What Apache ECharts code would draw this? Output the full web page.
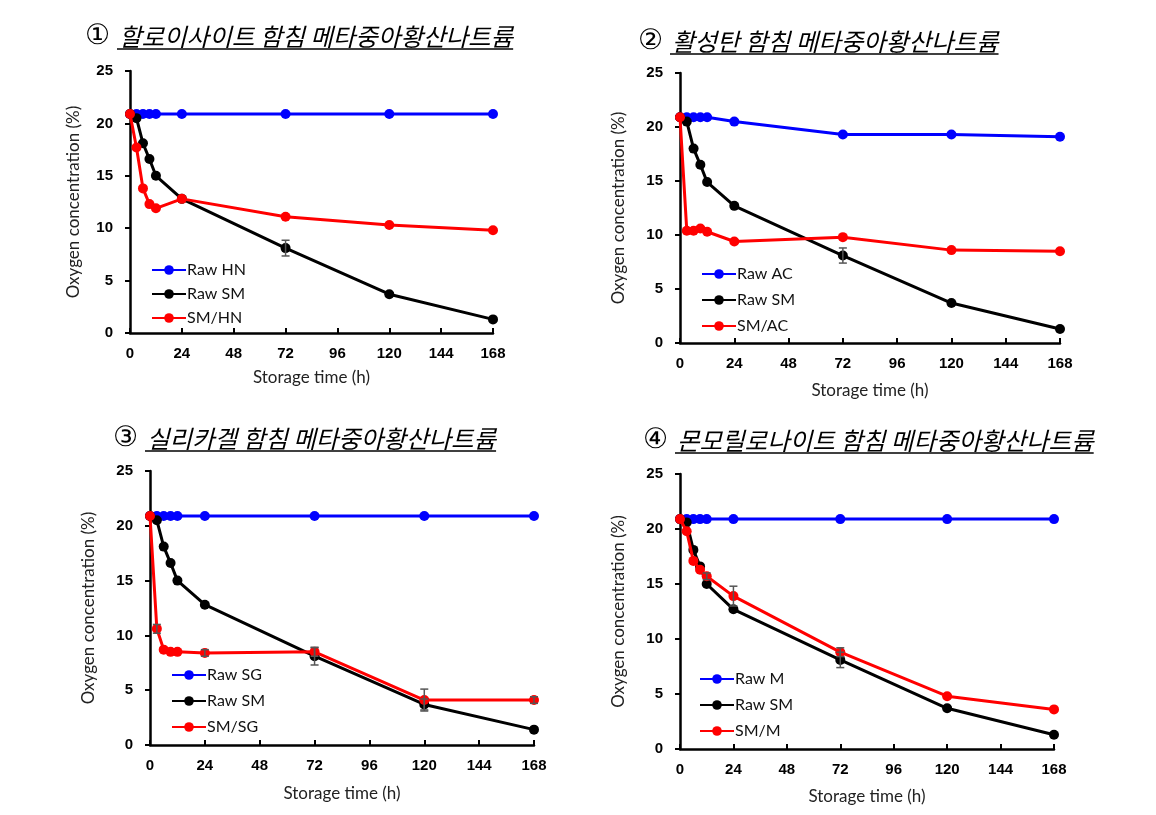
<!DOCTYPE html>
<html>
<head>
<meta charset="utf-8">
<script src="https://cdn.jsdelivr.net/npm/echarts@6/dist/echarts.min.js"></script>
<style>
html,body{margin:0;padding:0;background:#fff;}
#c{width:1156px;height:815px;}
</style>
</head>
<body>
<div id="c"></div>
<script>
// ---------- data ----------
const times = [0, 3, 6, 9, 12, 24, 72, 120, 168];
const xTicks = [0, 24, 48, 72, 96, 120, 144, 168];
const yTicks = [0, 5, 10, 15, 20, 25];

const titles = [
  ['①', '할로이사이트 함침 메타중아황산나트륨'],
  ['②', '활성탄 함침 메타중아황산나트륨'],
  ['③', '실리카겔 함침 메타중아황산나트륨'],
  ['④', '몬모릴로나이트 함침 메타중아황산나트륨']
];
const legendNames = [
  ['Raw HN', 'Raw SM', 'SM/HN'],
  ['Raw AC', 'Raw SM', 'SM/AC'],
  ['Raw SG', 'Raw SM', 'SM/SG'],
  ['Raw M', 'Raw SM', 'SM/M']
];

// panel 1
const rawHN  = [20.9, 20.9, 20.9, 20.9, 20.9, 20.9, 20.9, 20.9, 20.9];
const rawSM1 = [20.9, 20.5, 18.1, 16.6, 15.0, 12.8, 8.1, 3.7, 1.3];
const smHN   = [20.9, 17.7, 13.8, 12.3, 11.9, 12.8, 11.1, 10.3, 9.8];
const errRawSM1 = [0, 0, 0, 0, 0, 0, 0.75, 0, 0];
const errSmHN   = [0, 0, 0, 0, 0, 0, 0, 0, 0];
// panel 2
const rawAC  = [20.9, 20.9, 20.9, 20.9, 20.9, 20.5, 19.3, 19.3, 19.1];
const rawSM2 = [20.9, 20.5, 18.0, 16.5, 14.9, 12.7, 8.1, 3.7, 1.3];
const smAC   = [20.9, 10.4, 10.4, 10.6, 10.3, 9.4, 9.8, 8.6, 8.5];
const errRawSM2 = [0, 0, 0, 0, 0, 0, 0.7, 0, 0];
const errSmAC   = [0, 0, 0, 0, 0, 0, 0, 0, 0];
// panel 3
const rawSG  = [20.9, 20.9, 20.9, 20.9, 20.9, 20.9, 20.9, 20.9, 20.9];
const rawSM3 = [20.9, 20.5, 18.1, 16.6, 15.0, 12.8, 8.1, 3.7, 1.4];
const smSG   = [20.9, 10.6, 8.7, 8.5, 8.5, 8.4, 8.5, 4.1, 4.1];
const errRawSM3 = [0, 0, 0, 0, 0, 0, 0.8, 0.5, 0];
const errSmSG   = [0, 0.4, 0, 0, 0, 0.3, 0.4, 1.0, 0.3];
// panel 4
const rawM   = [20.9, 20.9, 20.9, 20.9, 20.9, 20.9, 20.9, 20.9, 20.9];
const rawSM4 = [20.9, 20.6, 18.1, 16.6, 15.0, 12.7, 8.1, 3.7, 1.3];
const smM    = [20.9, 19.8, 17.1, 16.3, 15.7, 13.9, 8.8, 4.8, 3.6];
const errRawSM4 = [0, 0, 0, 0, 0, 0, 0.7, 0, 0];
const errSmM    = [0, 0, 0, 0, 0.3, 0.9, 0.4, 0, 0];

const panelSeries = [
  [rawHN, rawSM1, smHN, errRawSM1, errSmHN],
  [rawAC, rawSM2, smAC, errRawSM2, errSmAC],
  [rawSG, rawSM3, smSG, errRawSM3, errSmSG],
  [rawM, rawSM4, smM, errRawSM4, errSmM]
];

// ---------- layout ----------
const grids = [
  {left: 130, top: 71, width: 363, height: 262},
  {left: 680, top: 73, width: 380, height: 270},
  {left: 150, top: 471, width: 384, height: 274},
  {left: 680, top: 474, width: 374, height: 275}
];
const legendPos = [
  {left: 146, top: 257, gap: 8},
  {left: 696, top: 261, gap: 10},
  {left: 166, top: 662, gap: 10},
  {left: 694, top: 666, gap: 10}
];
const titlePos = [
  {x: 86, y: 37}, {x: 639, y: 42}, {x: 114, y: 439}, {x: 644, y: 441}
];
const yNameGap = [48, 53, 53, 53];
const xNameGap = [36, 39, 40, 39];
const colors = ['#0000ff', '#000000', '#ff0000'];

const NUMF = 'Liberation Sans';
const TXTF = 'Lato';
const KRF = '"Noto Sans CJK KR"';

const chart = echarts.init(document.getElementById('c'), null, {renderer: 'canvas'});

const xAxes = [], yAxes = [], series = [], legends = [], graphics = [];

function zip(vals) { return times.map((t, i) => [t, vals[i]]); }
function errData(vals, errs) {
  const out = [];
  times.forEach((t, i) => { if (errs[i] > 0) out.push([t, vals[i] - errs[i], vals[i] + errs[i]]); });
  return out;
}

const measureCtx = document.createElement('canvas').getContext('2d');

grids.forEach((g, p) => {
  xAxes.push({
    type: 'value', gridIndex: p, min: 0, max: 168, interval: 24,
    name: 'Storage time (h)', nameLocation: 'middle', nameGap: xNameGap[p],
    nameTextStyle: {fontFamily: TXTF, fontSize: 17, color: '#222'},
    axisLine: {show: true, lineStyle: {color: '#000', width: 2.5}},
    axisTick: {show: true, inside: true, length: 5, lineStyle: {color: '#000', width: 2}},
    axisLabel: {fontFamily: NUMF, fontWeight: 'bold', fontSize: 15, color: '#000', margin: 13,
      formatter: v => xTicks.indexOf(v) >= 0 ? String(v) : ''},
    splitLine: {show: false}
  });
  yAxes.push({
    type: 'value', gridIndex: p, min: 0, max: 25, interval: 5,
    name: 'Oxygen concentration (%)', nameLocation: 'middle', nameGap: yNameGap[p],
    nameTextStyle: {fontFamily: TXTF, fontSize: 17, color: '#222'},
    axisLine: {show: true, lineStyle: {color: '#000', width: 2.5}},
    axisTick: {show: true, inside: false, length: 5, lineStyle: {color: '#000', width: 2}},
    axisLabel: {fontFamily: NUMF, fontWeight: 'bold', fontSize: 15, color: '#000', margin: 17,
      formatter: v => yTicks.indexOf(v) >= 0 ? String(v) : ''},
    splitLine: {show: false}
  });
  const [a, b, c, eb, ec] = panelSeries[p];
  [a, b, c].forEach((vals, k) => {
    series.push({
      type: 'line', name: legendNames[p][k], xAxisIndex: p, yAxisIndex: p,
      data: zip(vals), symbol: 'circle', symbolSize: 10,
      lineStyle: {color: colors[k], width: 3}, itemStyle: {color: colors[k]},
      z: 3 + k
    });
  });
  [[b, eb], [c, ec]].forEach(([vals, errs]) => {
    const d = errData(vals, errs);
    if (!d.length) return;
    series.push({
      type: 'custom', xAxisIndex: p, yAxisIndex: p, data: d, z: 10, silent: true,
      renderItem: (params, api) => {
        const top = api.coord([api.value(0), api.value(2)]);
        const bot = api.coord([api.value(0), api.value(1)]);
        const hw = 4;
        const st = {stroke: '#555', lineWidth: 1.5};
        return {type: 'group', children: [
          {type: 'line', shape: {x1: top[0], y1: top[1], x2: bot[0], y2: bot[1]}, style: st},
          {type: 'line', shape: {x1: top[0] - hw, y1: top[1], x2: top[0] + hw, y2: top[1]}, style: st},
          {type: 'line', shape: {x1: bot[0] - hw, y1: bot[1], x2: bot[0] + hw, y2: bot[1]}, style: st}
        ]};
      }
    });
  });
  legends.push({
    orient: 'vertical', left: legendPos[p].left, top: legendPos[p].top,
    data: legendNames[p], itemWidth: 34, itemHeight: 12, itemGap: legendPos[p].gap,
    textStyle: {fontFamily: TXTF, fontSize: 16, color: '#111', padding: [0, 0, 0, -4]},
    selectedMode: false
  });
  // title
  const tp = titlePos[p];
  const fsz = 24.5;
  measureCtx.font = 'italic ' + fsz + 'px "Noto Sans CJK KR"';
  const w = measureCtx.measureText(titles[p][1]).width;
  const tx = tp.x + 33;
  graphics.push({type: 'text', x: tp.x - 1, y: tp.y, style: {text: titles[p][0], fontFamily: '"DejaVu Sans"', fontSize: 28, fill: '#000', textVerticalAlign: 'middle'}});
  graphics.push({type: 'text', x: tx, y: tp.y, style: {text: titles[p][1], fontFamily: KRF, fontSize: fsz, fontStyle: 'italic', fill: '#000', textVerticalAlign: 'middle'}});
  graphics.push({type: 'line', shape: {x1: tx - 2, y1: tp.y + 12, x2: tx + w, y2: tp.y + 12}, style: {stroke: '#000', lineWidth: 1.5}});
});

chart.setOption({
  animation: false,
  backgroundColor: '#fff',
  grid: grids,
  xAxis: xAxes,
  yAxis: yAxes,
  legend: legends,
  series: series,
  graphic: graphics
});
</script>
</body>
</html>
